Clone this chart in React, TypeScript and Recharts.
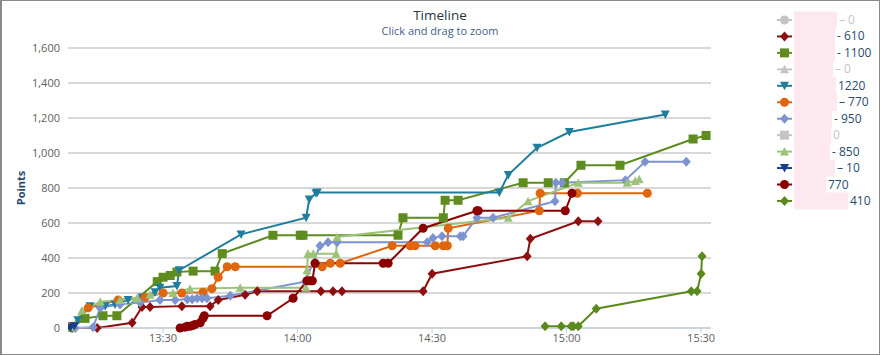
import React from 'react';
import { LineChart, Line, XAxis, YAxis, CartesianGrid } from 'recharts';

const FONT = '"Open Sans", "DejaVu Sans", sans-serif';

// times are minutes after 13:00, values are points
const RED_DIAMOND_T = [9.7, 15.3, 23.1, 25.3, 27.1, 34.2, 40.5, 42.3, 48.3, 51.0, 65.2, 67.9, 69.9, 88.0, 90.0, 111.2, 111.9, 122.6, 127.0];
const RED_DIAMOND_V = [0, 0, 30, 120, 120, 125, 125, 160, 190, 210, 210, 210, 210, 210, 310, 410, 510, 610, 610];

const OLIVE_SQUARE_T = [9.7, 12.6, 16.6, 19.7, 28.7, 30.0, 31.6, 33.1, 36.7, 41.6, 43.2, 54.5, 60.6, 61.2, 82.4, 83.5, 92.5, 92.9, 95.8, 110.3, 115.9, 119.5, 123.2, 131.9, 148.2, 151.1];
const OLIVE_SQUARE_V = [5, 55, 70, 70, 265, 290, 300, 320, 325, 325, 425, 530, 530, 530, 530, 630, 630, 730, 730, 830, 830, 830, 930, 930, 1080, 1100];

const TEAL_T = [9.3, 11.0, 13.7, 17.1, 19.3, 22.2, 25.3, 28.2, 29.3, 33.1, 33.6, 47.4, 61.9, 62.6, 64.1, 64.4, 105.0, 107.0, 113.4, 120.6, 142.0];
const TEAL_V = [10, 45, 125, 125, 135, 160, 175, 205, 230, 240, 330, 535, 630, 735, 770, 775, 775, 875, 1030, 1120, 1220];

const ORANGE_T = [9.7, 13.3, 20.0, 26.0, 30.0, 34.2, 38.9, 40.9, 42.3, 44.3, 46.1, 65.5, 67.3, 69.5, 81.1, 85.1, 86.2, 90.7, 92.5, 93.4, 93.6, 113.9, 114.1, 122.4, 138.0];
const ORANGE_V = [10, 115, 160, 175, 200, 200, 205, 225, 290, 350, 350, 350, 370, 370, 470, 470, 470, 470, 470, 470, 570, 670, 770, 770, 770];

const BLUE_T = [10.4, 14.4, 16.0, 20.4, 24.9, 29.3, 32.7, 35.4, 36.5, 37.6, 38.7, 39.8, 45.0, 61.7, 65.0, 66.8, 68.8, 88.9, 90.2, 92.2, 96.3, 96.9, 100.0, 103.6, 117.4, 117.6, 119.0, 133.1, 137.5, 146.7];
const BLUE_V = [0, 5, 115, 135, 145, 160, 160, 165, 165, 170, 170, 170, 185, 265, 470, 490, 490, 490, 515, 525, 525, 525, 630, 630, 725, 830, 830, 845, 950, 950];

const GREEN_T = [9.7, 11.9, 16.0, 20.4, 24.2, 27.1, 32.2, 36.0, 47.2, 61.9, 62.1, 62.3, 63.5, 68.6, 68.8, 107.0, 111.4, 122.6, 133.5, 135.3, 136.2];
const GREEN_V = [5, 100, 150, 160, 170, 190, 200, 225, 230, 230, 330, 425, 425, 425, 520, 630, 725, 830, 830, 840, 850];

const NAVY_T = [9.3, 10.2];
const NAVY_V = [0, 10];

const RED_CIRCLE_T = [33.8, 34.9, 35.4, 36.0, 36.7, 37.1, 38.3, 38.9, 39.2, 53.2, 59.0, 62.1, 62.8, 63.3, 63.9, 79.1, 80.2, 88.0, 100.0, 100.3, 119.7, 121.2];
const RED_CIRCLE_V = [0, 5, 10, 10, 15, 20, 30, 55, 70, 70, 170, 270, 270, 270, 370, 370, 370, 570, 670, 670, 670, 770];

const OLIVE_DIAMOND_T = [115.2, 118.8, 121.0, 121.5, 122.6, 126.6, 147.8, 149.1, 150.0, 150.2];
const OLIVE_DIAMOND_V = [10, 10, 10, 10, 10, 110, 210, 210, 310, 410];

const X_TICKS = [30, 60, 90, 120, 150];
const Y_TICKS = [0, 200, 400, 600, 800, 1000, 1200, 1400, 1600];

type Shape = 'circle' | 'square' | 'diamond' | 'triangle' | 'triangle-down';

const rows = (t: number[], v: number[]) => t.map((m, i) => ({ t: m, v: v[i] }));

// legend order; hidden series are greyed out and not drawn
const SERIES: { id: string; shape: Shape; color: string; hidden?: boolean; t: number[]; v: number[]; dash: string; lx: number }[] = [
  { id: 's1', shape: 'circle', color: '#c4c4c4', hidden: true, t: [], v: [], dash: '– ', lx: 839 },
  { id: 's2', shape: 'diamond', color: '#8e0f0f', t: RED_DIAMOND_T, v: RED_DIAMOND_V, dash: '- ', lx: 837 },
  { id: 's3', shape: 'square', color: '#5f8c1e', t: OLIVE_SQUARE_T, v: OLIVE_SQUARE_V, dash: '- ', lx: 837 },
  { id: 's4', shape: 'triangle', color: '#c4c4c4', hidden: true, t: [], v: [], dash: '– ', lx: 835 },
  { id: 's5', shape: 'triangle-down', color: '#1f7d9e', t: TEAL_T, v: TEAL_V, dash: '', lx: 838 },
  { id: 's6', shape: 'circle', color: '#e0650f', t: ORANGE_T, v: ORANGE_V, dash: '– ', lx: 839 },
  { id: 's7', shape: 'diamond', color: '#7b93d0', t: BLUE_T, v: BLUE_V, dash: '- ', lx: 834 },
  { id: 's8', shape: 'square', color: '#c4c4c4', hidden: true, t: [], v: [], dash: '', lx: 833 },
  { id: 's9', shape: 'triangle', color: '#9dc27a', t: GREEN_T, v: GREEN_V, dash: '- ', lx: 832 },
  { id: 's10', shape: 'triangle-down', color: '#173d8e', t: NAVY_T, v: NAVY_V, dash: '– ', lx: 837 },
  { id: 's11', shape: 'circle', color: '#8b0000', t: RED_CIRCLE_T, v: RED_CIRCLE_V, dash: '', lx: 828 },
  { id: 's12', shape: 'diamond', color: '#5b8a1c', t: OLIVE_DIAMOND_T, v: OLIVE_DIAMOND_V, dash: '', lx: 850 },
];

const fmtTime = (t: number) => `${13 + Math.floor(t / 60)}:${String(Math.round(t % 60)).padStart(2, '0')}`;

function Marker({ shape, x, y, color }: { shape: Shape; x: number; y: number; color: string }) {
  if (shape === 'circle') return <circle cx={x} cy={y} r={4.5} fill={color} />;
  if (shape === 'square') return <rect x={x - 4.5} y={y - 4.5} width={9} height={9} fill={color} />;
  if (shape === 'diamond') return <path d={`M${x} ${y - 5}L${x + 4.5} ${y}L${x} ${y + 5}L${x - 4.5} ${y}Z`} fill={color} />;
  if (shape === 'triangle') return <path d={`M${x} ${y - 4.5}L${x + 4.5} ${y + 4}L${x - 4.5} ${y + 4}Z`} fill={color} />;
  return <path d={`M${x - 4.5} ${y - 4}L${x + 4.5} ${y - 4}L${x} ${y + 4.5}Z`} fill={color} />;
}

export default function App() {
  return (
    <div style={{ position: 'absolute', left: 0, top: 0, width: 880, height: 355, background: '#fff', fontFamily: FONT }}>
      <LineChart width={880} height={355} margin={{ top: 48, right: 169, bottom: 0, left: 8 }}>
        <CartesianGrid vertical={false} stroke="#cbcbcb" strokeWidth={1.5} />
        <XAxis
          type="number"
          dataKey="t"
          domain={[8.8, 152.2]}
          allowDataOverflow
          ticks={X_TICKS}
          tickFormatter={fmtTime}
          height={27}
          stroke="#C0D0E0"
          tickSize={5}
          tickMargin={1}
          tick={{ fontSize: 11, fill: '#606060', fontFamily: FONT }}
        />
        <YAxis
          type="number"
          dataKey="v"
          domain={[0, 1600]}
          ticks={Y_TICKS}
          tickFormatter={(v: number) => v.toLocaleString('en-US')}
          width={60}
          axisLine={false}
          tickLine={false}
          tickSize={0}
          tickMargin={8}
          tick={{ fontSize: 11, fill: '#606060', fontFamily: FONT }}
        />
        {SERIES.filter(s => !s.hidden).map(s => (
          <Line
            key={s.id}
            data={rows(s.t, s.v)}
            dataKey="v"
            type="linear"
            stroke={s.color}
            strokeWidth={2}
            isAnimationActive={false}
            activeDot={false}
            dot={(p: any) => <Marker key={`${s.id}-${p.index}`} shape={s.shape} x={p.cx} y={p.cy} color={s.color} />}
          />
        ))}
      </LineChart>

      <svg width={880} height={355} style={{ position: 'absolute', left: 0, top: 0, pointerEvents: 'none' }}>
        <text x={440} y={20} textAnchor="middle" fontSize={13.5} fill="#2b3540" fontFamily={FONT}>Timeline</text>
        <text x={440} y={35} textAnchor="middle" fontSize={11} fill="#3e5f8a" fontFamily={FONT}>Click and drag to zoom</text>
        <text x={20} y={188} textAnchor="middle" dominantBaseline="central" transform="rotate(-90 20 188)" fontSize={11} fontWeight="bold" fill="#274b6d" fontFamily={FONT}>Points</text>
        {SERIES.map((s, i) => {
          const cy = 20 + i * 16.45;
          const total = s.v.length ? s.v[s.v.length - 1] : 0;
          return (
            <g key={s.id}>
              <line x1={777} x2={792} y1={cy} y2={cy} stroke={s.color} strokeWidth={2} />
              <Marker shape={s.shape} x={784.5} y={cy} color={s.color} />
              <rect x={794} y={cy - 8.5} width={s.lx - 796} height={17} fill="#fde8ef" />
              <text x={s.lx} y={cy + 4} fontSize={12} fill={s.hidden ? '#c4c4c4' : '#274b6d'} fontFamily={FONT}>
                {s.id === 's8' ? '0' : `${s.dash}${total}`}
              </text>
            </g>
          );
        })}
      </svg>
      <div style={{ position: 'absolute', left: 0, top: 0, width: 880, height: 355, boxSizing: 'border-box', border: '1px solid #8a8a8a', borderLeftWidth: 2, pointerEvents: 'none' }} />
    </div>
  );
}
